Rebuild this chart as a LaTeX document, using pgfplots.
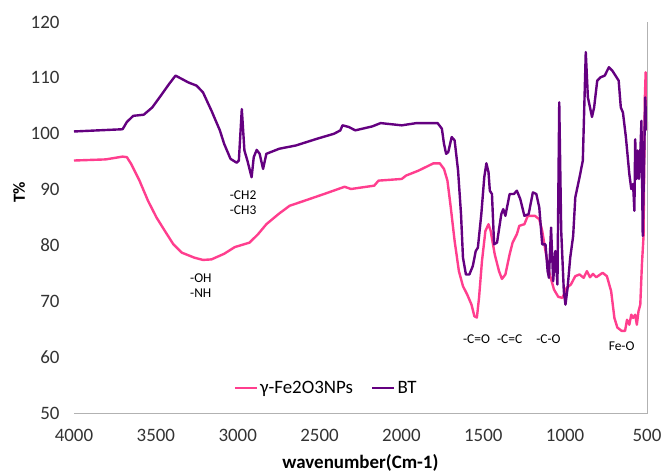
\documentclass[border=0pt]{standalone}
\usepackage{pgfplots}
\pgfplotsset{compat=1.18}
\usepackage{fontspec}
\setmainfont{Carlito}
\definecolor{pinkc}{RGB}{255,62,142}
\definecolor{purpc}{RGB}{100,0,128}
\begin{document}
\begin{tikzpicture}
\begin{axis}[
  scale only axis, width=573bp, height=391bp,
  x dir=reverse, xmin=500, xmax=4000, ymin=50, ymax=120,
  xtick={500,1000,...,4000}, ytick={50,60,...,120},
  /pgf/number format/assume math mode=true,
  /pgf/number format/1000 sep={},
  ticklabel style={font=\fontsize{19}{21}\selectfont, text=black!80},
  major tick length=0pt,
  axis line style={draw=none},
  yticklabel style={xshift=-11bp},
  xticklabel style={yshift=-13bp},
  xlabel={\textbf{wavenumber(Cm-1)}},
  xlabel style={font=\fontsize{19}{21}\selectfont, yshift=-6bp},
  ylabel={\textbf{T\%}},
  ylabel style={font=\fontsize{17}{20}\selectfont, at={(rel axis cs:-0.096,0.565)}, anchor=center},
  legend columns=2,
  legend style={draw=none, fill=none, at={(rel axis cs:0.44,0.064)}, anchor=center, font=\fontsize{19}{21}\selectfont, /tikz/every even column/.append style={column sep=16bp}, inner sep=0pt},
  legend image code/.code={\draw[#1, line width=2.6bp] (0bp,0bp) -- (22bp,0bp);},
  every axis plot/.append style={line width=2.4bp, line join=round},
  clip=false,
]
\addplot[pinkc] coordinates {
(4000,95.2)(3806,95.4)(3703,95.9)(3677,95.8)(3651,94.6)(3600,91.6)(3548,88.0)(3496,85.0)(3445,82.6)(3393,80.2)(3341,78.7)(3264,77.8)(3212,77.4)(3160,77.5)(3083,78.5)(3018,79.7)(2928,80.5)(2876,82.0)(2825,83.8)(2747,85.7)(2683,87.1)(2592,88.0)(2463,89.3)(2347,90.5)(2308,90.1)(2166,90.7)(2140,91.6)(1998,91.9)(1972,92.5)(1895,93.4)(1804,94.7)(1766,94.7)(1740,93.7)(1719,91.6)(1701,87.4)(1675,80.8)(1649,75.4)(1624,72.7)(1598,71.2)(1572,69.4)(1554,67.3)(1539,67.1)(1526,70.6)(1508,77.2)(1487,82.6)(1468,83.8)(1455,82.6)(1430,78.4)(1404,75.4)(1386,74.0)(1365,74.8)(1339,78.4)(1321,80.5)(1295,82.0)(1280,83.5)(1249,83.8)(1228,85.3)(1185,85.3)(1158,84.7)(1140,82.6)(1120,79.0)(1094,74.8)(1068,72.1)(1042,70.8)(1017,70.6)(991,72.4)(965,73.0)(938,74.5)(912,74.8)(887,74.2)(867,75.4)(848,74.3)(830,74.9)(810,74.3)(771,75.1)(745,74.5)(719,71.8)(699,67.0)(681,65.3)(655,64.7)(634,64.7)(622,66.7)(608,65.8)(596,67.6)(585,67.0)(572,67.6)(562,65.8)(552,68.2)(541,69.4)(531,76.6)(521,81.7)(513,106.5)(508,111.0)(500,100.6)
};
\addlegendentry{γ-Fe2O3NPs}
\addplot[purpc] coordinates {
(4000,100.4)(3703,100.8)(3677,102.1)(3638,103.2)(3574,103.4)(3522,104.7)(3470,106.8)(3419,108.9)(3380,110.4)(3341,109.8)(3303,109.2)(3251,108.6)(3212,107.4)(3160,104.1)(3109,100.6)(3083,98.2)(3044,95.5)(3006,94.8)(2993,95.2)(2975,104.4)(2959,97.0)(2941,95.2)(2915,92.2)(2902,95.8)(2884,97.1)(2866,96.4)(2845,93.7)(2825,96.4)(2747,97.3)(2644,97.9)(2515,99.1)(2411,100.0)(2373,100.6)(2360,101.5)(2321,101.2)(2282,100.6)(2179,101.3)(2127,101.9)(1998,101.5)(1908,101.9)(1779,101.9)(1753,100.9)(1740,98.2)(1727,96.4)(1714,96.7)(1693,99.4)(1675,98.8)(1654,93.4)(1636,85.6)(1624,77.8)(1606,74.8)(1585,74.8)(1564,76.3)(1546,79.0)(1533,79.6)(1512,85.6)(1494,92.2)(1481,94.7)(1468,93.1)(1460,89.8)(1447,89.2)(1434,80.2)(1416,80.5)(1390,85.6)(1378,86.5)(1365,85.3)(1339,89.2)(1313,89.2)(1295,89.8)(1274,88.3)(1249,85.3)(1223,85.6)(1197,89.5)(1176,89.2)(1158,86.8)(1140,80.2)(1120,80.2)(1107,75.4)(1099,74.2)(1086,83.2)(1073,73.6)(1060,79.0)(1047,73.0)(1036,105.6)(1024,82.6)(1008,71.8)(998,69.4)(985,72.4)(969,77.8)(951,81.7)(938,88.6)(912,92.2)(892,95.2)(874,114.6)(861,106.5)(848,104.7)(836,103.0)(823,104.7)(804,109.5)(784,110.1)(758,110.4)(733,111.9)(712,111.3)(686,110.1)(673,109.5)(660,104.7)(647,103.8)(629,99.4)(608,92.8)(596,90.1)(585,91.0)(577,86.2)(572,99.0)(565,91.9)(557,97.0)(549,91.9)(541,96.4)(534,102.3)(526,81.7)(518,94.5)(511,106.5)(503,100.6)
};
\addlegendentry{BT}
\draw[black!30, line width=0.8bp] (rel axis cs:0,0) -- (rel axis cs:1,0) -- (rel axis cs:1,1);
\begin{scope}[every node/.style={font=\fontsize{13.5}{15}\selectfont, text=black, align=left}]
\node at (axis cs:2967,87.6) {-CH2\\-CH3};
\node at (axis cs:3225,72.8) {-OH\\-NH};
\node at (axis cs:1541,63.2) {-C=O};
\node at (axis cs:1339,63.2) {-C=C};
\node at (axis cs:1102,63.2) {-C-O};
\node at (axis cs:655,62.0) {Fe-O};
\end{scope}
\end{axis}
\pgfresetboundingbox
\path[use as bounding box] (current axis.south west) ++(-74bp,-63bp) rectangle ([xshift=15bp,yshift=22bp]current axis.north east);
\end{tikzpicture}
\end{document}
